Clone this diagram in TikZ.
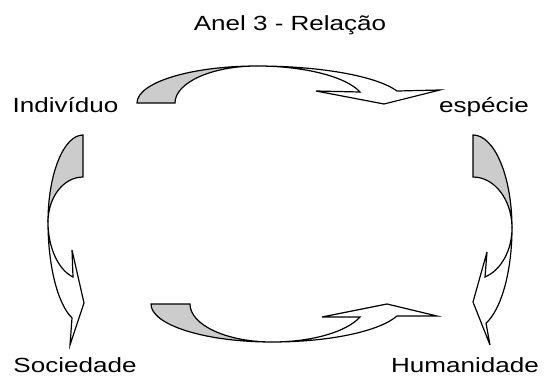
\documentclass[tikz,border=0pt]{standalone}
\usepackage{fontspec}
\setmainfont{Liberation Sans}
\definecolor{backface}{RGB}{204,204,204}
\tikzset{
  backpart/.style={draw=black, fill=backface, line width=1.2pt},
  frontpart/.style={draw=black, fill=white, line width=1.2pt},
  word/.style={anchor=base, inner sep=0pt, font=\fontsize{20.5}{24}\selectfont}
}
\newcommand{\wide}[1]{\scalebox{1.27}[1]{#1}}
\begin{document}
\begin{tikzpicture}[x=1pt, y=-1pt]
\useasboundingbox (0,0) rectangle (544,378);

% labels
\node[word] (title) at (290,30) {\wide{Anel 3 - Relação}};
\node[word] (ind) at (65.5,112.5) {\wide{Indivíduo}};
\node[word] (esp) at (484,112.5) {\wide{espécie}};
\node[word] (soc) at (75,372) {\wide{Sociedade}};
\node[word] (hum) at (465,372) {\wide{Humanidade}};

% top curved arrow: Indivíduo -> espécie
\path[backpart] (137,103)
  arc[start angle=180, end angle=270, x radius=120, y radius=37]
  arc[start angle=270, end angle=180, x radius=82, y radius=37] -- cycle;
\path[frontpart] (257,66)
  arc[start angle=270, end angle=341.1, x radius=148, y radius=37]
  -- (440,90) -- (384,104) -- (316,91) -- (360,92)
  arc[start angle=342.7, end angle=270, x radius=108, y radius=37] -- cycle;

% right curved arrow: espécie -> Humanidade
\path[backpart] (473,135)
  arc[start angle=270, end angle=360, x radius=39, y radius=93]
  arc[start angle=0, end angle=-90, x radius=39, y radius=51] -- cycle;
\path[frontpart] (512,228)
  arc[start angle=0, end angle=70.5, x radius=39, y radius=101]
  -- (490,345) -- (473,302) -- (487,252) -- (485,277)
  arc[start angle=72.1, end angle=0, x radius=39, y radius=51.5] -- cycle;

% left curved arrow: Indivíduo -> Sociedade
\path[backpart] (83,135)
  arc[start angle=270, end angle=180, x radius=35, y radius=87]
  arc[start angle=180, end angle=270, x radius=35, y radius=45] -- cycle;
\path[frontpart] (48,222)
  arc[start angle=180, end angle=108.3, x radius=35, y radius=101]
  -- (70,345) -- (84,303) -- (72,250) -- (73,277)
  arc[start angle=106.6, end angle=180, x radius=35, y radius=57.4] -- cycle;

% bottom curved arrow: Sociedade -> Humanidade
\path[backpart] (151,304)
  arc[start angle=180, end angle=90, x radius=121, y radius=38]
  arc[start angle=90, end angle=180, x radius=82, y radius=38] -- cycle;
\path[frontpart] (272,342)
  arc[start angle=90, end angle=18.4, x radius=131.7, y radius=38]
  -- (437,316) -- (387,304) -- (322,317) -- (360,317)
  arc[start angle=20, end angle=90, x radius=93.6, y radius=38] -- cycle;
\end{tikzpicture}
\end{document}
